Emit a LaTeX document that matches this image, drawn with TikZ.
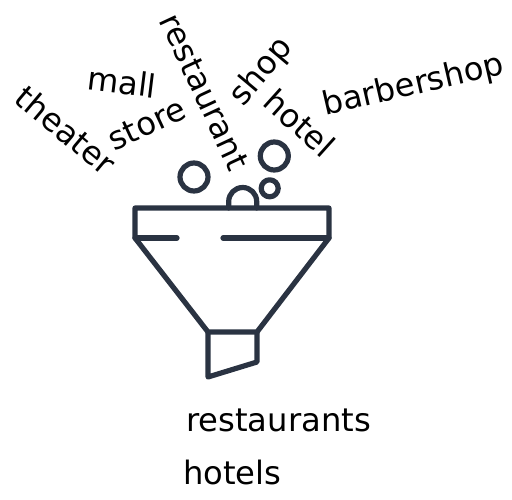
\documentclass[tikz,border=0pt]{standalone}
\usepackage{fontspec}
\setmainfont{DejaVu Sans}
\usetikzlibrary{positioning}
\definecolor{FunnelDark}{HTML}{2A3342}
\begin{document}
\begin{tikzpicture}[x=1pt,y=-1pt,
  funnel/.style={draw=FunnelDark,line width=5.2pt,line join=round,line cap=round},
  word/.style={font=\fontsize{32.2}{38}\selectfont,text=black,inner sep=0pt},
  result/.style={font=\fontsize{32.2}{38}\selectfont,text=black,inner sep=0pt,anchor=base west},
]
\useasboundingbox (0,0) rectangle (512,500);
% funnel outline
\draw[funnel] (135,208) -- (329,208) -- (329,238) -- (257,332) -- (208,332) -- (135,238) -- cycle;
\draw[funnel] (135,238) -- (177,238);
\draw[funnel] (223,238) -- (329,238);
\draw[funnel] (208,332) -- (208,377) -- (257,362) -- (257,332);
% bubbles
\draw[funnel] (194,177) circle (14);
\draw[funnel] (274.3,156) circle (14);
\draw[funnel] (269.7,188.3) circle (8.5);
\draw[funnel] (228.7,208) -- (228.7,201.5) arc (180:360:14) -- (256.7,208);
% words
\node[word,rotate=-40] (theater) at (66,130) {theater};
\node[word,rotate=25] (store) at (147,124) {store};
\node[word,rotate=-7] (mall) at (122,82) {mall};
\node[word,rotate=-65] (restaurant) at (204.5,92) {restaurant};
\node[word,rotate=50] (shop) at (262,72) {shop};
\node[word,rotate=-42] (hotel) at (300,123) {hotel};
\node[word,rotate=13] (barbershop) at (413.5,86) {barbershop};
% results
\node[result] (restaurants) at (186,431) {restaurants};
\node[result] (hotels) at (183,484) {hotels};
\end{tikzpicture}
\end{document}
